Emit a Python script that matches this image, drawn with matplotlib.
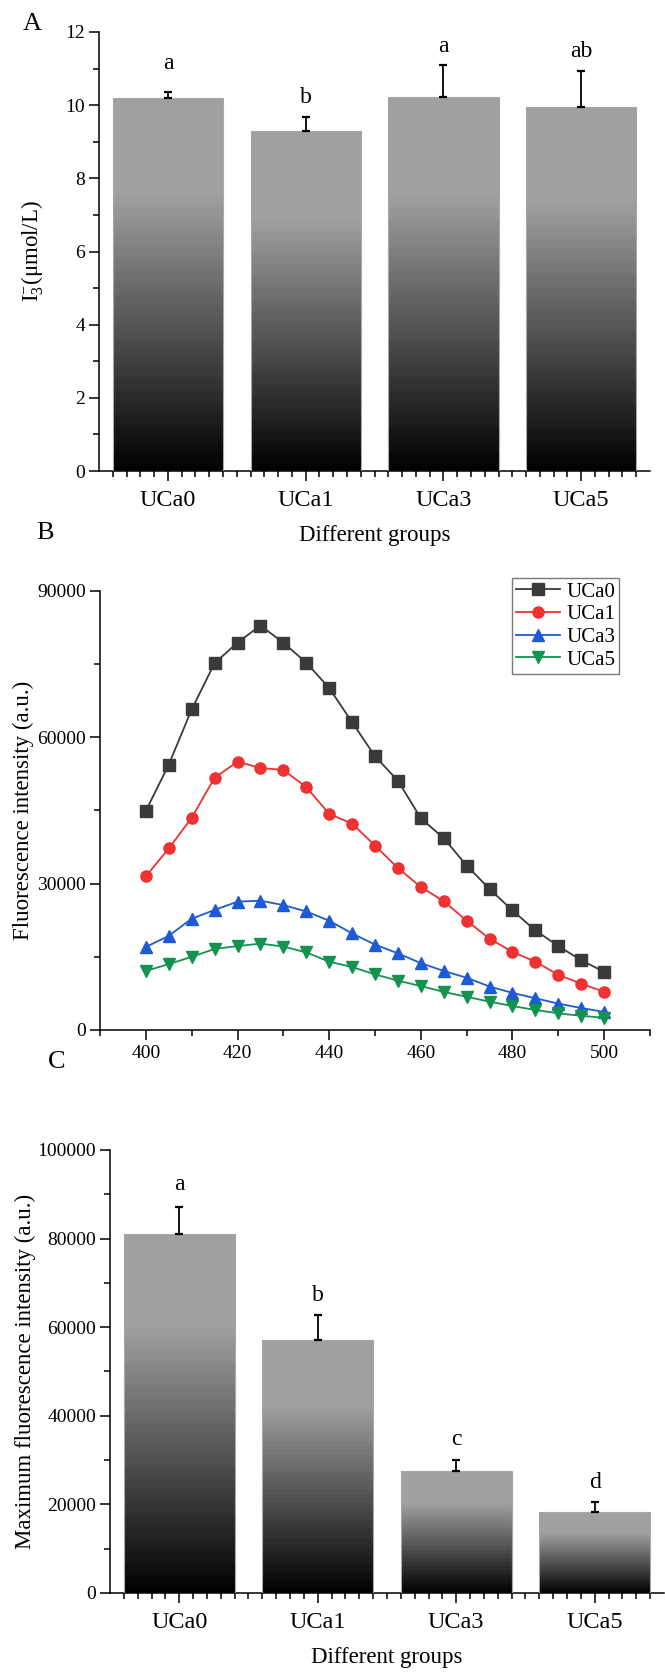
import numpy as np
import matplotlib
matplotlib.use("Agg")
import matplotlib.pyplot as plt
from matplotlib.ticker import MultipleLocator, FixedLocator

plt.rcParams.update({
    "font.family": ["Liberation Serif", "DejaVu Serif"],
    "mathtext.fontset": "custom",
    "mathtext.rm": "Liberation Serif",
    "mathtext.it": "Liberation Serif:italic",
    "axes.linewidth": 1.1,
})

# ---- data ----
groups = ["UCa0", "UCa1", "UCa3", "UCa5"]

# panel A: I3- content
i3_mean = [10.2, 9.3, 10.22, 9.96]
i3_sd = [0.15, 0.37, 0.87, 0.97]
i3_sig = ["a", "b", "a", "ab"]
i3_sig_y = [10.98, 10.05, 11.45, 11.32]

# panel B: fluorescence spectra
wavelength = [400, 405, 410, 415, 420, 425, 430, 435, 440, 445, 450,
              455, 460, 465, 470, 475, 480, 485, 490, 495, 500]
spec_uca0 = [44900, 54400, 65700, 75200, 79400, 82900, 79400, 75300, 70100,
             63100, 56100, 51100, 43400, 39300, 33700, 28900, 24500, 20400,
             17200, 14300, 11900]
spec_uca1 = [31500, 37200, 43500, 51700, 55000, 53700, 53300, 49800, 44300,
             42300, 37800, 33200, 29300, 26400, 22400, 18700, 16000, 14000,
             11300, 9500, 7800]
spec_uca3 = [17000, 19300, 22800, 24600, 26300, 26500, 25600, 24300, 22400,
             19800, 17500, 15700, 13700, 12100, 10700, 8900, 7600, 6500,
             5400, 4500, 3700]
spec_uca5 = [12100, 13500, 15000, 16600, 17200, 17700, 17100, 15900, 14000,
             12900, 11400, 10100, 9000, 7800, 6800, 5800, 4900, 4100,
             3400, 2900, 2500]

# panel C: maximum fluorescence intensity
fmax_mean = [81100, 57200, 27500, 18200]
fmax_sd = [6100, 5650, 2450, 2350]
fmax_sig = ["a", "b", "c", "d"]
fmax_sig_y = [91000, 65800, 33500, 23700]

SPEC_COLORS = ["#3a3a3a", "#ee3131", "#1d5ad6", "#13934f"]
SPEC_MARKERS = ["s", "o", "^", "v"]


def gradient_bars(ax, means, sds, sig, sig_y):
    x = np.arange(len(means))
    bars = ax.bar(x, means, 0.8, facecolor="none", edgecolor="#a8a8a8",
                  lw=0.8, zorder=3)
    nb = 90
    t = (np.arange(nb) + 0.5) / nb
    v = 0.63 * np.minimum(1.0, t / 0.74)
    v = np.round(v * 70) / 70
    grad = np.dstack([v, v, v]).reshape(nb, 1, 3)
    for p in bars:
        im = ax.imshow(grad, origin="lower", aspect="auto", zorder=2,
                       extent=(p.get_x(), p.get_x() + p.get_width(),
                               0, p.get_height()), interpolation="nearest")
        im.set_clip_path(p)
    ax.errorbar(x, means, yerr=[np.zeros(len(sds)), sds], fmt="none",
                ecolor="black", elinewidth=1.3, capsize=3, capthick=1.6,
                zorder=4)
    for xi, s, yy in zip(x, sig, sig_y):
        ax.text(xi, yy, s, ha="center", va="baseline", fontsize=17)
    ax.set_xlim(-0.5, len(means) - 0.5)
    ax.set_xticks(x)
    ax.set_xticklabels(groups, fontsize=17.5)
    minor = [i + k * 0.1 for i in x for k in range(-4, 5) if k != 0]
    minor += [i + 0.5 for i in x[:-1]]
    ax.xaxis.set_minor_locator(FixedLocator(minor))
    ax.tick_params(axis="x", which="major", length=7, width=1.1, pad=7)
    ax.tick_params(axis="x", which="minor", length=4, width=1.1)
    ax.set_xlabel("Different groups", fontsize=16.5, labelpad=10)


def style(ax):
    for s in ("top", "right"):
        ax.spines[s].set_visible(False)
    ax.tick_params(direction="out")
    ax.tick_params(axis="y", which="major", length=7, width=1.1, pad=3,
                   labelsize=14)
    ax.tick_params(axis="y", which="minor", length=4, width=1.1)


fig = plt.figure(figsize=(6.65, 16.75), dpi=100)

# ---- A ----
axA = fig.add_axes([0.1489, 0.7188, 0.8286, 0.2621])
style(axA)
gradient_bars(axA, i3_mean, i3_sd, i3_sig, i3_sig_y)
axA.set_ylim(0, 12)
axA.yaxis.set_major_locator(MultipleLocator(2))
axA.yaxis.set_minor_locator(MultipleLocator(1))
axA.set_ylabel(r"I$_3^{-}$(μmol/L)", fontsize=16.5)
axA.yaxis.set_label_coords(-0.096, 0.5)

# ---- B ----
axB = fig.add_axes([0.1504, 0.3851, 0.827, 0.2621])
style(axB)
for ys, name, c, m in zip([spec_uca0, spec_uca1, spec_uca3, spec_uca5],
                          groups, SPEC_COLORS, SPEC_MARKERS):
    axB.plot(wavelength, ys, color=c, lw=1.3, marker=m, ms=8,
             markerfacecolor=c, markeredgecolor=c, label=name, clip_on=False,
             zorder=3)
axB.set_xlim(390, 510)
axB.set_ylim(0, 90000)
axB.xaxis.set_major_locator(MultipleLocator(20))
axB.xaxis.set_minor_locator(MultipleLocator(10))
axB.yaxis.set_major_locator(MultipleLocator(30000))
axB.yaxis.set_minor_locator(MultipleLocator(15000))
axB.tick_params(axis="x", which="major", length=7, width=1.1, pad=4,
                labelsize=14)
axB.tick_params(axis="x", which="minor", length=4, width=1.1)
axB.set_ylabel("Fluorescence intensity (a.u.)", fontsize=16.5)
axB.yaxis.set_label_coords(-0.12, 0.5)
leg = axB.legend(loc="upper left", bbox_to_anchor=(0.770, 0.655),
                 bbox_transform=fig.transFigure, borderaxespad=0,
                 fontsize=15, fancybox=False, framealpha=1,
                 edgecolor="#7a7a7a", handlelength=2.1, handletextpad=0.3,
                 borderpad=0.2, labelspacing=0.15)
leg.get_frame().set_linewidth(1.0)

# ---- C ----
axC = fig.add_axes([0.1654, 0.04896, 0.8331, 0.2645])
style(axC)
gradient_bars(axC, fmax_mean, fmax_sd, fmax_sig, fmax_sig_y)
axC.set_ylim(0, 100000)
axC.yaxis.set_major_locator(MultipleLocator(20000))
axC.yaxis.set_minor_locator(MultipleLocator(10000))
axC.set_ylabel("Maximum fluorescence intensity (a.u.)", fontsize=16.5)
axC.yaxis.set_label_coords(-0.134, 0.5)

# panel letters
fig.text(0.048, 0.9857, "A", fontsize=19, ha="center", va="center")
fig.text(0.0677, 0.682, "B", fontsize=19, ha="center", va="center")
fig.text(0.0857, 0.366, "C", fontsize=19, ha="center", va="center")

fig.savefig("out.png", dpi=100)
